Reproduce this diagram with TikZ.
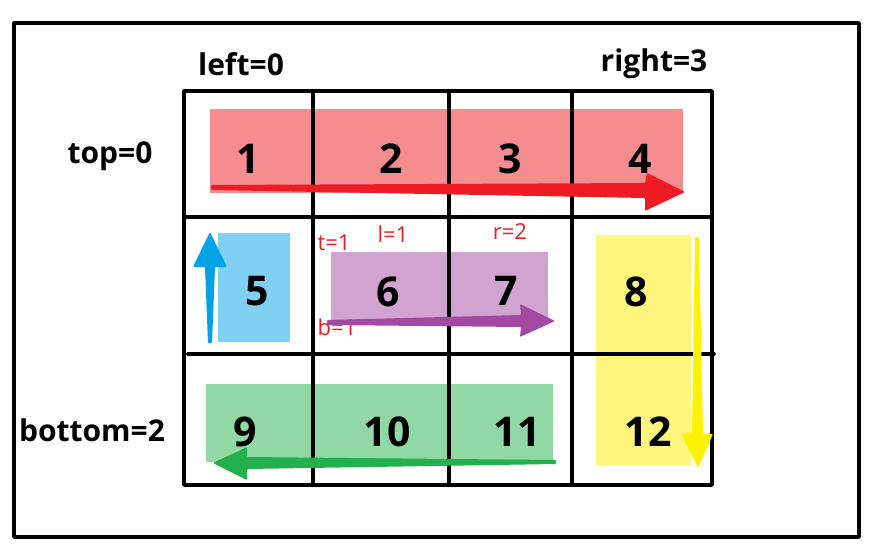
\documentclass[tikz,border=0pt]{standalone}
\usepackage{fontspec}
\setmainfont{Open Sans}
\definecolor{redfill}{HTML}{F58C8F}
\definecolor{redarrow}{HTML}{ED1C24}
\definecolor{bluefill}{HTML}{80D0F4}
\definecolor{bluearrow}{HTML}{00A2E8}
\definecolor{purplefill}{HTML}{D1A3D1}
\definecolor{purplearrow}{HTML}{A349A4}
\definecolor{yellowfill}{HTML}{FFF57D}
\definecolor{yellowarrow}{HTML}{FFF200}
\definecolor{greenfill}{HTML}{90D8A4}
\definecolor{greenarrow}{HTML}{22B14C}
\definecolor{redtext}{HTML}{ED1C24}
\tikzset{
  gridline/.style={line width=3.6pt, line cap=round, black},
  frameline/.style={line width=3.6pt, line join=round, black},
  numlabel/.style={inner sep=0pt, font=\fontsize{41}{45}\selectfont\bfseries},
  sidelabel/.style={inner sep=0pt, font=\fontsize{30}{33}\selectfont\bfseries},
  redlabel/.style={inner sep=0pt, text=redtext, font=\fontsize{22}{25}\selectfont},
  arrowshape/.style={rounded corners=1pt}
}
\begin{document}
\begin{tikzpicture}[x=1pt,y=-1pt]
\useasboundingbox (0,0) rectangle (876,549);
% outer frame
\draw[frameline] (14,23) rectangle (859,537);
% coloured regions
\fill[redfill] (210,109) rectangle (683,193);
\fill[bluefill] (218,233) rectangle (290,342);
\fill[purplefill] (331,252) rectangle (548,320);
\fill[yellowfill] (596,235) rectangle (691,465);
\fill[greenfill] (206,384) rectangle (553,462);
% grid
\draw[frameline] (184,91) rectangle (712,485);
\draw[gridline] (313,91) -- (313,485);
\draw[gridline] (449,91) -- (449,485);
\draw[gridline] (572,91) -- (572,485);
\draw[gridline] (184,217) -- (712,217);
\draw[gridline] (188,354) -- (714,354);
% numbers
\node[numlabel] (n1) at (248,159) {1};
\node[numlabel] (n2) at (391,159) {2};
\node[numlabel] (n3) at (510,159) {3};
\node[numlabel] (n4) at (640,159) {4};
\node[numlabel] (n5) at (257,291) {5};
\node[numlabel] (n6) at (388,292) {6};
\node[numlabel] (n7) at (506,291) {7};
\node[numlabel] (n8) at (636,292) {8};
\node[numlabel] (n9) at (245,432) {9};
\node[numlabel] (n10) at (387,432) {10};
\node[numlabel] (n11) at (517,432) {11};
\node[numlabel] (n12) at (648,432) {12};
% side labels
\node[sidelabel] (lleft) at (241,64) {left=0};
\node[sidelabel] (lright) at (654,64) {right=3};
\node[sidelabel] (ltop) at (110,156) {top=0};
\node[sidelabel] (lbottom) at (92,430) {bottom=2};
% small red labels
\node[redlabel] (lt) at (334,243) {t=1};
\node[redlabel] (ll) at (393,234) {l=1};
\node[redlabel] (lr) at (510,232) {r=2};
\node[redlabel] (lb) at (337,327) {b=1};
% arrows (tapered)
\fill[redarrow, arrowshape] (211,185) -- (645,183) -- (647,173) -- (685,192) -- (645,211) -- (645,198) -- (211,190) -- cycle;
\fill[purplearrow, arrowshape] (327,320) -- (521,315) -- (520,304) -- (555,321) -- (520,337) -- (521,327) -- (327,325) -- cycle;
\fill[bluearrow, arrowshape] (208,343) -- (205,267) -- (193,267) -- (210,232) -- (227,267) -- (215,267) -- (212,343) -- cycle;
\fill[yellowarrow, arrowshape] (695,237) -- (692,434) -- (681,434) -- (698,468) -- (713,434) -- (703,434) -- (699,237) -- cycle;
\fill[greenarrow, arrowshape] (556,460) -- (247,457) -- (247,447) -- (213,463) -- (247,480) -- (247,469) -- (556,464) -- cycle;
\end{tikzpicture}
\end{document}
